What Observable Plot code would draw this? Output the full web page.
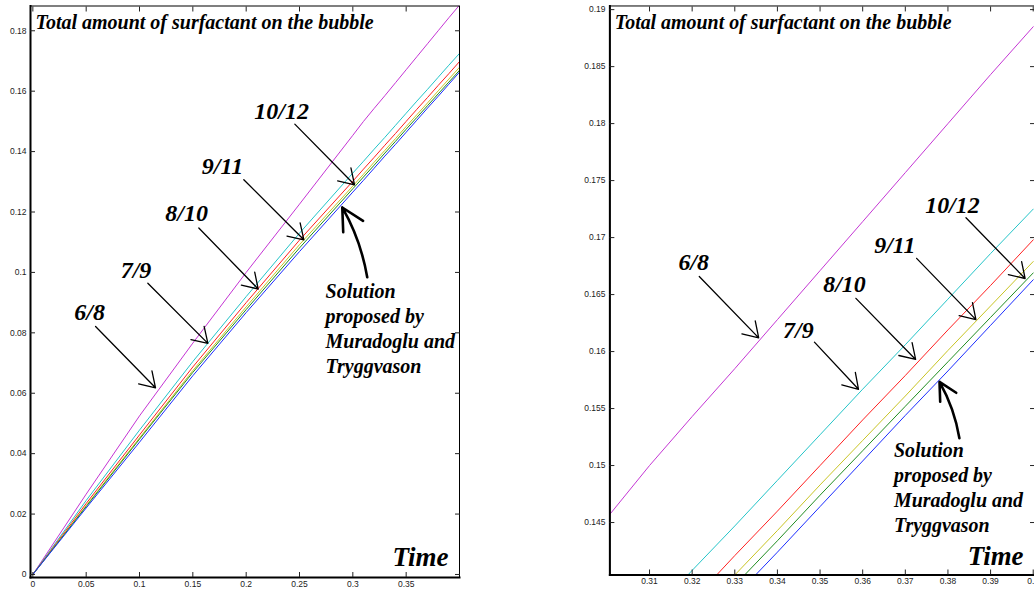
<!DOCTYPE html>
<html><head><meta charset="utf-8">
<script src="https://cdn.jsdelivr.net/npm/d3@7"></script>
<script src="https://cdn.jsdelivr.net/npm/@observablehq/plot@0.6"></script>
<style>
html,body{margin:0;padding:0;background:#fff;overflow:hidden;width:1034px;height:591px}
#left{position:absolute;left:0;top:0}
#right{position:absolute;left:580px;top:0}
</style></head><body>
<div id="left"></div><div id="right"></div>
<script>
// ---- data ----
const time = [0, 0.05, 0.1, 0.15, 0.2, 0.25, 0.3, 0.31, 0.32, 0.33, 0.34, 0.35, 0.36, 0.37, 0.38, 0.39, 0.4];
const run6_8   = [0, 0.0266, 0.0525, 0.0766, 0.1000, 0.1226, 0.1454, 0.1500, 0.1543, 0.1585, 0.1628, 0.1671, 0.1714, 0.1757, 0.1800, 0.1843, 0.1885];
const run7_9   = [0, 0.0245, 0.0478, 0.0705, 0.0920, 0.1130, 0.1329, 0.1368, 0.1408, 0.1447, 0.1487, 0.1527, 0.1567, 0.1606, 0.1646, 0.1686, 0.1725];
const run8_10  = [0, 0.0235, 0.0462, 0.0687, 0.0900, 0.1107, 0.1302, 0.1342, 0.1381, 0.1421, 0.1460, 0.1500, 0.1540, 0.1579, 0.1619, 0.1658, 0.1698];
const run9_11  = [0, 0.0228, 0.0452, 0.0675, 0.0886, 0.1092, 0.1286, 0.1325, 0.1365, 0.1404, 0.1443, 0.1483, 0.1522, 0.1561, 0.1601, 0.1640, 0.1679];
const run10_12 = [0, 0.0225, 0.0448, 0.0669, 0.0877, 0.1081, 0.1277, 0.1316, 0.1355, 0.1395, 0.1434, 0.1474, 0.1513, 0.1552, 0.1591, 0.1630, 0.1669];
const solutionMT = [0, 0.0220, 0.0438, 0.0658, 0.0867, 0.1069, 0.1266, 0.1305, 0.1345, 0.1385, 0.1424, 0.1464, 0.1504, 0.1544, 0.1583, 0.1623, 0.1663];

const seriesNames  = ["6/8", "7/9", "8/10", "9/11", "10/12", "Muradoglu and Tryggvason"];
const seriesValues = [run6_8, run7_9, run8_10, run9_11, run10_12, solutionMT];
const seriesColors = ["#c434d4", "#22c4c8", "#ff1e1e", "#c8c422", "#1e8c1e", "#1a2cff"];

const leftXTicks  = [0, 0.05, 0.1, 0.15, 0.2, 0.25, 0.3, 0.35];
const leftYTicks  = [0, 0.02, 0.04, 0.06, 0.08, 0.1, 0.12, 0.14, 0.16, 0.18];
const rightXTicks = [0.31, 0.32, 0.33, 0.34, 0.35, 0.36, 0.37, 0.38, 0.39, 0.4];
const rightYTicks = [0.145, 0.15, 0.155, 0.16, 0.165, 0.17, 0.175, 0.18, 0.185, 0.19];

const titleText = "Total amount of surfactant on the bubble";
const solutionText = "Solution\nproposed by\nMuradoglu and\nTryggvason";
const axisWord = "Time";

// annotation anchors in data units
const leftLabels = [
  {label: "6/8", x: 0.0532, y: 0.0867}, {label: "7/9", x: 0.0967, y: 0.1006},
  {label: "8/10", x: 0.1441, y: 0.1195}, {label: "9/11", x: 0.1778, y: 0.1350},
  {label: "10/12", x: 0.2332, y: 0.1535}
];
const leftArrows = [
  {x1: 0.0588, y1: 0.0821, x2: 0.1150, y2: 0.0618},
  {x1: 0.1078, y1: 0.0964, x2: 0.1641, y2: 0.0765},
  {x1: 0.1556, y1: 0.1147, x2: 0.2113, y2: 0.0945},
  {x1: 0.1978, y1: 0.1307, x2: 0.2541, y2: 0.1108},
  {x1: 0.2456, y1: 0.1491, x2: 0.3016, y2: 0.1290}
];
const leftSolution = {x: 0.2744, y: 0.0973};
const leftSolArrow = {x1: 0.3135, y1: 0.0984, x2: 0.2901, y2: 0.1215};

const rightLabels = [
  {label: "6/8", x: 0.32036, y: 0.16784}, {label: "7/9", x: 0.3449, y: 0.16184},
  {label: "8/10", x: 0.35573, y: 0.16592}, {label: "9/11", x: 0.36754, y: 0.16935},
  {label: "10/12", x: 0.38105, y: 0.17284}
];
const rightArrows = [
  {x1: 0.32167, y1: 0.16659, x2: 0.33561, y2: 0.16120},
  {x1: 0.34868, y1: 0.16083, x2: 0.35902, y2: 0.15669},
  {x1: 0.35841, y1: 0.16467, x2: 0.37242, y2: 0.15931},
  {x1: 0.37265, y1: 0.16818, x2: 0.38656, y2: 0.16280},
  {x1: 0.38423, y1: 0.17174, x2: 0.39810, y2: 0.16641}
];
const rightSolution = {x: 0.36735, y: 0.15228};
const rightSolArrow = {x1: 0.38269, y1: 0.15239, x2: 0.37802, y2: 0.15734};

// ---- build ----
const rows = seriesNames.flatMap((s, k) => time.map((t, i) => ({s, t, v: seriesValues[k][i]})));
const fmt = d => String(+(+d).toFixed(4));
const serif = "'Liberation Serif','Times New Roman',Times,serif";
const textStyle = {fontFamily: serif, fontWeight: "bold", fontStyle: "italic", fill: "black"};

function panel({width, marginLeft, marginRight, xDomain, yDomain, xTicks, yTicks, labels, arrows, sol, solArrow, timeDy, yPad}) {
  return Plot.plot({
    width, height: 591, marginLeft, marginRight, marginTop: 5.5, marginBottom: 14,
    x: {domain: xDomain}, y: {domain: yDomain},
    color: {domain: seriesNames, range: seriesColors},
    style: {fontFamily: "'Liberation Sans',Helvetica,Arial,sans-serif", fontSize: "8.5px", color: "#222", overflow: "visible", background: "transparent"},
    marks: [
      Plot.line(rows, {x: "t", y: "v", z: "s", stroke: "s", strokeWidth: 1, clip: true}),
      Plot.frame({stroke: "black", strokeWidth: 1}),
      Plot.frame({anchor: "left", stroke: "black", strokeWidth: 2}),
      Plot.frame({anchor: "bottom", stroke: "black", strokeWidth: 2}),
      Plot.axisX(xTicks, {anchor: "bottom", tickSize: -5, tickPadding: 8, tickFormat: fmt, label: null}),
      Plot.axisX(xTicks, {anchor: "top", tickSize: -5, tickFormat: () => "", label: null}),
      Plot.axisY(yTicks, {anchor: "left", tickSize: -5, tickPadding: yPad, tickFormat: fmt, label: null}),
      Plot.axisY(yTicks, {anchor: "right", tickSize: -5, tickFormat: () => "", label: null}),
      Plot.text([titleText], {text: d => d, frameAnchor: "top-left", textAnchor: "start", lineAnchor: "bottom", dx: 5, dy: 23, fontSize: 20, ...textStyle}),
      Plot.text([axisWord], {text: d => d, frameAnchor: "bottom-right", textAnchor: "end", lineAnchor: "bottom", dx: -11, dy: timeDy, fontSize: 27, ...textStyle}),
      Plot.text(labels, {x: "x", y: "y", text: "label", fontSize: 24, ...textStyle}),
      Plot.arrow(arrows, {x1: "x1", y1: "y1", x2: "x2", y2: "y2", stroke: "black", strokeWidth: 1.3, headLength: 20, headAngle: 65}),
      Plot.text([sol], {x: "x", y: "y", text: () => solutionText, textAnchor: "start", lineAnchor: "top", lineHeight: 1.25, fontSize: 20, ...textStyle}),
      Plot.arrow([solArrow], {x1: "x1", y1: "y1", x2: "x2", y2: "y2", stroke: "black", strokeWidth: 2.6, headLength: 17, headAngle: 55, bend: -10})
    ]
  });
}

document.getElementById("left").append(panel({
  width: 460, marginLeft: 30, marginRight: 1,
  xDomain: [-0.0022, 0.4], yDomain: [-0.001, 0.1882],
  xTicks: leftXTicks, yTicks: leftYTicks,
  labels: leftLabels, arrows: leftArrows, sol: leftSolution, solArrow: leftSolArrow, timeDy: -12, yPad: 9
}));
document.getElementById("right").append(panel({
  width: 456, marginLeft: 29.5, marginRight: 0,
  xDomain: [0.3007, 0.4003], yDomain: [0.1404, 0.19032],
  xTicks: rightXTicks, yTicks: rightYTicks,
  labels: rightLabels, arrows: rightArrows, sol: rightSolution, solArrow: rightSolArrow, timeDy: -10.5, yPad: 9.5
}));
</script>
</body></html>
